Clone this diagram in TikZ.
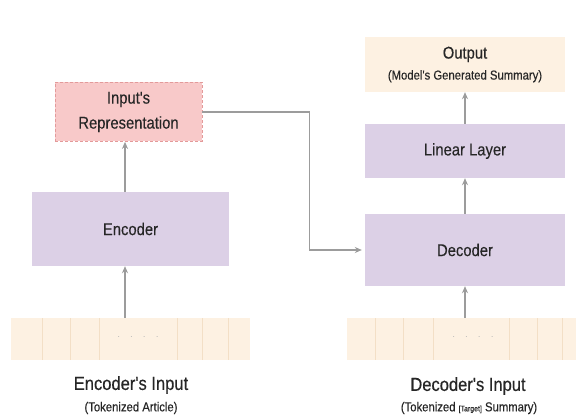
\documentclass[tikz,border=0pt]{standalone}
\usepackage{fontspec}
\setmainfont{Liberation Sans}
\newfontfamily\narrowsans[FakeStretch=0.87,FakeBold=0.3]{Liberation Sans}
\usetikzlibrary{arrows.meta}
\definecolor{purplebox}{HTML}{DCD0E6}
\definecolor{pinkbox}{HTML}{F8C9C9}
\definecolor{pinkedge}{HTML}{E39A9A}
\definecolor{creambox}{HTML}{FDF1E2}
\definecolor{creamedge}{HTML}{F3DFC6}
\definecolor{arrowgray}{HTML}{9C9C9C}
\definecolor{txt}{HTML}{262626}
\begin{document}
\begin{tikzpicture}[x=1pt,y=-1pt,
  box/.style={inner sep=0pt, align=center, text=txt, font=\narrowsans\fontsize{17}{25}\selectfont},
  block/.style={box, fill=purplebox},
  strip/.style={inner sep=0pt, fill=creambox},
  arr/.style={draw=arrowgray, line width=1.3pt, -{Stealth[length=7pt,width=6pt]}},
  divider/.style={draw=creamedge, line width=0.8pt},
  biglab/.style={text=txt, font=\narrowsans\fontsize{19}{22}\selectfont},
  smalllab/.style={text=txt, font=\narrowsans\fontsize{13}{15}\selectfont},
  dots/.style={text=black!30, font=\fontsize{10}{12}\selectfont}]

\useasboundingbox (0,0) rectangle (576,417);
\fill[white] (0,0) rectangle (576,417);

% encoder side
\node[box, fill=pinkbox, draw=pinkedge, densely dashed, line width=0.8pt,
      minimum width=147pt, minimum height=59pt] (rep) at (128.5,112)
      {Input's\\Representation};
\node[block, minimum width=197pt, minimum height=74pt] (enc) at (130.5,229) {Encoder};
\node[strip, minimum width=239pt, minimum height=42pt] (encin) at (130.5,339) {};
\foreach \xx in {42,70,99,177,202,228}
  \draw[divider] (\xx,318) -- (\xx,360);
\node[dots] (encdots) at (138,337) {$\cdot$\quad$\cdot$\quad$\cdot$\quad$\cdot$};
\node[biglab] (enclab) at (131,385) {Encoder's Input};
\node[smalllab] (encsub) at (131,408) {(Tokenized Article)};

% decoder side
\node[box, fill=creambox, minimum width=200pt, minimum height=55pt] (out) at (465,64.5)
      {Output\\[-4pt]{\fontsize{13}{15}\selectfont (Model's Generated Summary)}};
\node[block, minimum width=200pt, minimum height=54pt] (lin) at (465,151) {Linear Layer};
\node[block, minimum width=200pt, minimum height=72pt] (dec) at (465,250) {Decoder};
\node[strip, minimum width=229pt, minimum height=42pt] (decin) at (461.5,339) {};
\foreach \xx in {375,403,433,509,537,562}
  \draw[divider] (\xx,318) -- (\xx,360);
\node[dots] (decdots) at (473,337) {$\cdot$\quad$\cdot$\quad$\cdot$\quad$\cdot$};
\node[biglab] (declab) at (468,386) {Decoder's Input};
\node[smalllab] (decsub) at (469,408)
      {(Tokenized {\fontsize{8}{9}\selectfont [Target]} Summary)};

% connectors
\coordinate (lx) at (125,0);
\coordinate (rx) at (465,0);
\draw[arr] (encin.north -| lx) -- (enc.south -| lx);
\draw[arr] (enc.north -| lx) -- (rep.south -| lx);
\draw[arr] (decin.north -| rx) -- (dec.south -| rx);
\draw[arr] (dec.north -| rx) -- (lin.south -| rx);
\draw[arr] (lin.north -| rx) -- (out.south -| rx);
\draw[arr, shorten >=3pt] (rep.east) -- ++(107,0) |- (dec.west);
\end{tikzpicture}
\end{document}
